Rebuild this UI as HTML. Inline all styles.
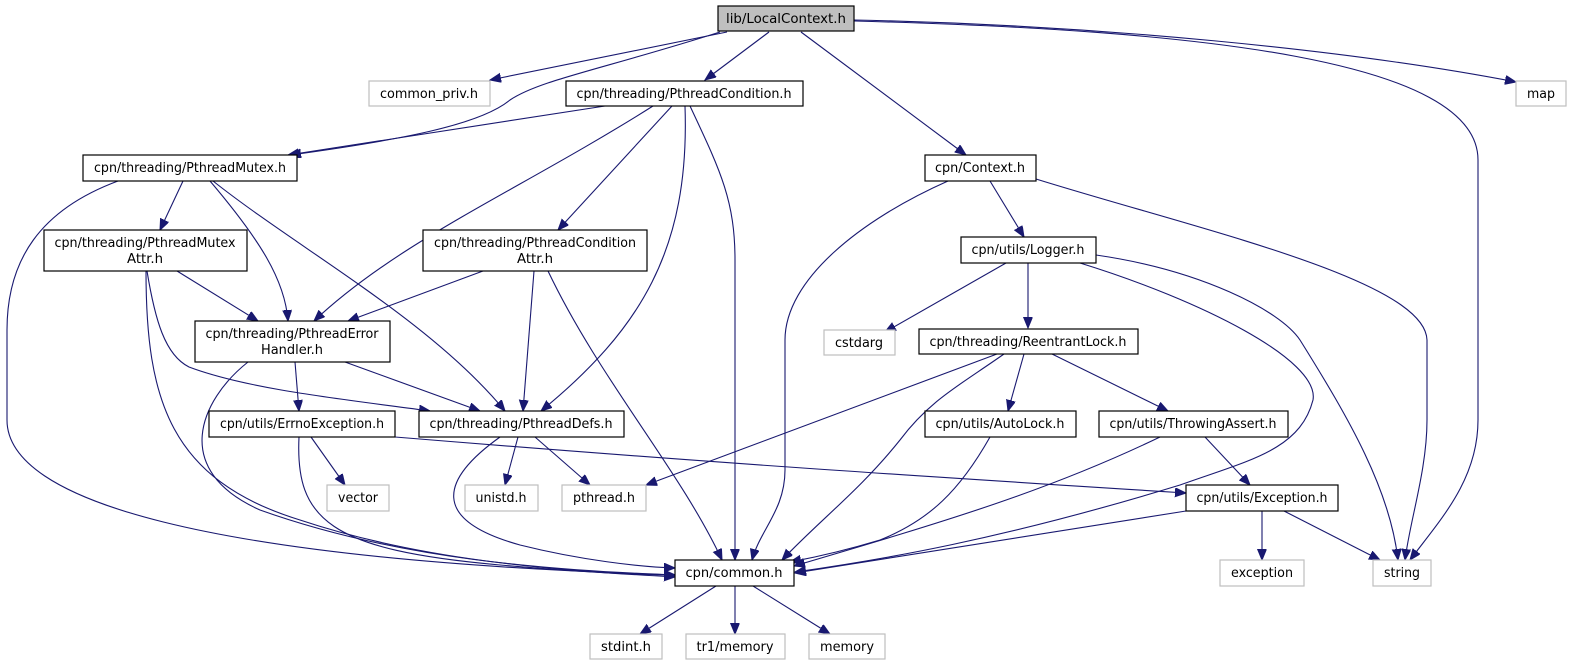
<!DOCTYPE html>
<html><head><meta charset="utf-8"><style>
html,body{margin:0;padding:0;background:#fff;}
svg{display:block;}
text{font-family:"DejaVu Sans Condensed","Liberation Sans Narrow","Liberation Sans",sans-serif;font-size:13.5px;fill:#000;}
.e{fill:none;stroke:#191970;stroke-width:1.1;marker-end:url(#a);}
.b{fill:#fff;stroke:#000;stroke-width:1.2;}
.g{fill:#fff;stroke:#bfbfbf;stroke-width:1.2;}
</style></head><body>
<svg width="1571" height="667" viewBox="0 0 1571 667" xmlns="http://www.w3.org/2000/svg">
<defs><marker id="a" markerUnits="userSpaceOnUse" markerWidth="12" markerHeight="10" refX="11" refY="4.5" orient="auto"><path d="M0,0 L11,4.5 L0,9 z" fill="#191970" stroke="#191970"/></marker></defs>
<path class="e" d="M727,32 L490,80"/>
<path class="e" d="M720,32 C600,70 540,80 510,100 C480,125 400,140 290,155"/>
<path class="e" d="M769,32 L705,80"/>
<path class="e" d="M801,32 L966,155"/>
<path class="e" d="M854,21 C1200,30 1478,60 1478,160 L1478,420 C1478,480 1440,520 1410,560"/>
<path class="e" d="M854,20 C1100,25 1350,50 1516,82"/>
<path class="e" d="M605,106 L288,155"/>
<path class="e" d="M653,106 C520,190 400,240 314,321"/>
<path class="e" d="M672,106 L558,230"/>
<path class="e" d="M685,106 C690,250 640,330 541,411"/>
<path class="e" d="M690,106 C720,170 735,200 735,260 L735,560"/>
<path class="e" d="M118,181 C40,210 7,260 7,330 L7,420 C7,500 200,560 675,575"/>
<path class="e" d="M183,181 L160,230"/>
<path class="e" d="M210,181 C260,240 285,280 288,321"/>
<path class="e" d="M213,181 C300,250 430,320 505,411"/>
<path class="e" d="M177,271 L258,321"/>
<path class="e" d="M147,271 C155,320 165,355 189,367 C250,390 350,400 430,411"/>
<path class="e" d="M146,271 C146,400 170,480 300,520 C420,560 550,570 675,577"/>
<path class="e" d="M483,271 L348,321"/>
<path class="e" d="M534,271 L523,411"/>
<path class="e" d="M548,271 C600,380 680,470 722,560"/>
<path class="e" d="M295,362 L299,411"/>
<path class="e" d="M345,362 L480,411"/>
<path class="e" d="M248,362 C200,400 170,470 260,510 C400,560 550,570 675,575"/>
<path class="e" d="M311,437 L345,485"/>
<path class="e" d="M299,437 C295,520 330,550 500,565 C580,572 640,575 675,575"/>
<path class="e" d="M395,437 C700,462 900,475 1186,493"/>
<path class="e" d="M518,437 L505,485"/>
<path class="e" d="M535,437 L590,485"/>
<path class="e" d="M500,437 C440,480 430,520 520,545 C580,560 640,567 675,568"/>
<path class="e" d="M948,181 C860,220 785,280 785,340 L785,470 C785,510 760,530 752,560"/>
<path class="e" d="M990,181 L1024,237"/>
<path class="e" d="M1036,179 C1200,230 1425,280 1427,340 L1427,420 C1427,470 1410,520 1405,560"/>
<path class="e" d="M1006,263 L885,332"/>
<path class="e" d="M1028,263 L1028,328"/>
<path class="e" d="M1096,255 C1200,270 1280,310 1300,340 C1350,420 1390,490 1398,560"/>
<path class="e" d="M1080,263 C1200,300 1320,360 1313,400 C1300,450 1250,460 1180,485 C1000,540 880,560 795,572"/>
<path class="e" d="M997,354 L646,485"/>
<path class="e" d="M1004,354 C960,385 930,400 900,440 C860,490 820,520 782,560"/>
<path class="e" d="M1024,354 L1008,411"/>
<path class="e" d="M1052,354 L1168,411"/>
<path class="e" d="M990,437 C960,490 930,520 880,540 C830,555 800,560 790,562"/>
<path class="e" d="M1160,437 C1050,490 950,520 794,566"/>
<path class="e" d="M1205,437 L1250,485"/>
<path class="e" d="M1186,511 L795,573"/>
<path class="e" d="M1262,511 L1262,560"/>
<path class="e" d="M1284,511 L1380,560"/>
<path class="e" d="M716,586 L640,634"/>
<path class="e" d="M735,586 L735,634"/>
<path class="e" d="M753,586 L830,634"/>
<rect x="718" y="6" width="136" height="25" fill="#bfbfbf" stroke="#000" stroke-width="1.2"/><text x="786" y="23" text-anchor="middle" textLength="120" lengthAdjust="spacingAndGlyphs">lib/LocalContext.h</text>
<rect class="g" x="369" y="81" width="121" height="25"/><text x="429" y="98" text-anchor="middle" textLength="98" lengthAdjust="spacingAndGlyphs">common_priv.h</text>
<rect class="b" x="566" y="81" width="237" height="25"/><text x="684" y="98" text-anchor="middle" textLength="215" lengthAdjust="spacingAndGlyphs">cpn/threading/PthreadCondition.h</text>
<rect class="g" x="1516" y="81" width="50" height="25"/><text x="1541" y="98" text-anchor="middle" textLength="28" lengthAdjust="spacingAndGlyphs">map</text>
<rect class="b" x="83" y="155" width="214" height="26"/><text x="190" y="172" text-anchor="middle" textLength="192" lengthAdjust="spacingAndGlyphs">cpn/threading/PthreadMutex.h</text>
<rect class="b" x="925" y="155" width="111" height="26"/><text x="980" y="172" text-anchor="middle" textLength="90" lengthAdjust="spacingAndGlyphs">cpn/Context.h</text>
<rect class="b" x="44" y="230" width="203" height="41"/><text x="145" y="247" text-anchor="middle" textLength="181" lengthAdjust="spacingAndGlyphs">cpn/threading/PthreadMutex</text><text x="145" y="263" text-anchor="middle" textLength="36" lengthAdjust="spacingAndGlyphs">Attr.h</text>
<rect class="b" x="423" y="230" width="224" height="41"/><text x="535" y="247" text-anchor="middle" textLength="202" lengthAdjust="spacingAndGlyphs">cpn/threading/PthreadCondition</text><text x="535" y="263" text-anchor="middle" textLength="36" lengthAdjust="spacingAndGlyphs">Attr.h</text>
<rect class="b" x="961" y="237" width="135" height="26"/><text x="1028" y="254" text-anchor="middle" textLength="113" lengthAdjust="spacingAndGlyphs">cpn/utils/Logger.h</text>
<rect class="b" x="195" y="321" width="195" height="41"/><text x="292" y="338" text-anchor="middle" textLength="173" lengthAdjust="spacingAndGlyphs">cpn/threading/PthreadError</text><text x="292" y="354" text-anchor="middle" textLength="62" lengthAdjust="spacingAndGlyphs">Handler.h</text>
<rect class="g" x="824" y="330" width="71" height="25"/><text x="859" y="347" text-anchor="middle" textLength="48" lengthAdjust="spacingAndGlyphs">cstdarg</text>
<rect class="b" x="919" y="329" width="219" height="25"/><text x="1028" y="346" text-anchor="middle" textLength="197" lengthAdjust="spacingAndGlyphs">cpn/threading/ReentrantLock.h</text>
<rect class="b" x="209" y="411" width="186" height="26"/><text x="302" y="428" text-anchor="middle" textLength="164" lengthAdjust="spacingAndGlyphs">cpn/utils/ErrnoException.h</text>
<rect class="b" x="419" y="411" width="205" height="26"/><text x="521" y="428" text-anchor="middle" textLength="183" lengthAdjust="spacingAndGlyphs">cpn/threading/PthreadDefs.h</text>
<rect class="b" x="925" y="411" width="151" height="26"/><text x="1000" y="428" text-anchor="middle" textLength="129" lengthAdjust="spacingAndGlyphs">cpn/utils/AutoLock.h</text>
<rect class="b" x="1099" y="411" width="189" height="26"/><text x="1193" y="428" text-anchor="middle" textLength="167" lengthAdjust="spacingAndGlyphs">cpn/utils/ThrowingAssert.h</text>
<rect class="g" x="327" y="485" width="62" height="26"/><text x="358" y="502" text-anchor="middle" textLength="40" lengthAdjust="spacingAndGlyphs">vector</text>
<rect class="g" x="465" y="485" width="73" height="26"/><text x="501" y="502" text-anchor="middle" textLength="51" lengthAdjust="spacingAndGlyphs">unistd.h</text>
<rect class="g" x="562" y="485" width="84" height="26"/><text x="604" y="502" text-anchor="middle" textLength="62" lengthAdjust="spacingAndGlyphs">pthread.h</text>
<rect class="b" x="1186" y="485" width="152" height="26"/><text x="1262" y="502" text-anchor="middle" textLength="131" lengthAdjust="spacingAndGlyphs">cpn/utils/Exception.h</text>
<rect class="b" x="675" y="560" width="119" height="26"/><text x="734" y="577" text-anchor="middle" textLength="97" lengthAdjust="spacingAndGlyphs">cpn/common.h</text>
<rect class="g" x="1220" y="560" width="84" height="26"/><text x="1262" y="577" text-anchor="middle" textLength="62" lengthAdjust="spacingAndGlyphs">exception</text>
<rect class="g" x="1373" y="560" width="58" height="26"/><text x="1402" y="577" text-anchor="middle" textLength="36" lengthAdjust="spacingAndGlyphs">string</text>
<rect class="g" x="590" y="634" width="72" height="25"/><text x="626" y="651" text-anchor="middle" textLength="50" lengthAdjust="spacingAndGlyphs">stdint.h</text>
<rect class="g" x="686" y="634" width="99" height="25"/><text x="735" y="651" text-anchor="middle" textLength="77" lengthAdjust="spacingAndGlyphs">tr1/memory</text>
<rect class="g" x="809" y="634" width="76" height="25"/><text x="847" y="651" text-anchor="middle" textLength="54" lengthAdjust="spacingAndGlyphs">memory</text>
</svg>
</body></html>
